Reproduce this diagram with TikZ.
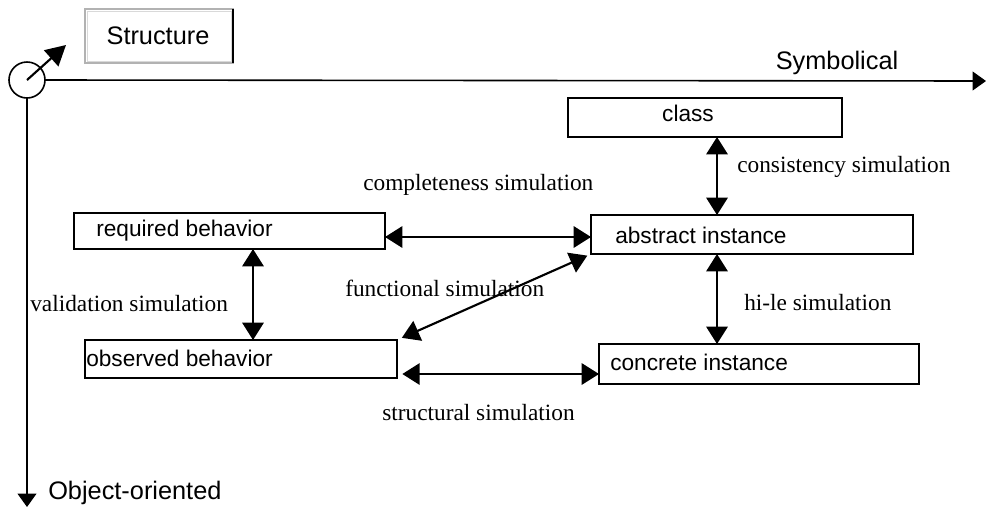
\documentclass[tikz,border=0pt]{standalone}
\usepackage{fontspec}
\setmainfont{Liberation Serif}
\newfontfamily\arialf{Liberation Sans}
\usetikzlibrary{arrows.meta}
\begin{document}
\begin{tikzpicture}[x=0.75pt,y=-0.75pt,
  box/.style={draw,line width=1.5pt,rectangle,inner sep=0pt,outer sep=0pt},
  sanslab/.style={inner sep=0pt,font=\arialf\fontsize{17}{20}\selectfont},
  axislab/.style={inner sep=0pt,font=\arialf\fontsize{19}{22}\selectfont},
  serlab/.style={inner sep=0pt,anchor=west,font=\fontsize{17.5}{21}\selectfont},
  rel/.style={line width=1.6pt,{Triangle[length=13pt,width=16pt]}-{Triangle[length=13pt,width=16pt]}},
  axis/.style={line width=1.2pt,-{Triangle[length=10pt,width=14pt]}}]
\useasboundingbox (0,0) rectangle (987,508);
\fill[white] (0,0) rectangle (987,508);

% axes
\node[draw,circle,line width=1.2pt,minimum size=27pt,inner sep=0pt,outer sep=0pt] (origin) at (27,80) {};
\coordinate (xend) at (986,81);
\coordinate (yend) at (27,507);
\coordinate (diag) at (66,45);
\draw[axis] (origin.east) -- (xend);
\draw[axis] (origin.south) -- (origin.south |- yend);
\draw[line width=1.6pt,-{Triangle[length=15pt,width=16pt]}] (origin.center) -- (diag);

% Structure box
\node[rectangle,draw=gray!60,line width=0.8pt,minimum width=111pt,minimum height=40.5pt,inner sep=0pt,outer sep=0pt] (structbox) at (159,36) {};
\draw[gray!30,line width=0.6pt] ([shift={(2,2)}]structbox.north west) rectangle ([shift={(-2,-2)}]structbox.south east);
\draw[line width=1.4pt] (structbox.north east) -- (structbox.south east);
\node[axislab] (structure) at (158,36) {Structure};

\node[axislab] (symb) at (837,63) {Symbolical};
\node[axislab,anchor=west] (oo) at (48,493) {Object-oriented};

% boxes
\node[box,minimum width=205.5pt,minimum height=29.25pt] (class) at (705,117.5) {};
\node[box,minimum width=241.5pt,minimum height=29.25pt] (abstract) at (752,234.5) {};
\node[box,minimum width=233.25pt,minimum height=27pt] (required) at (229.5,231) {};
\node[box,minimum width=234pt,minimum height=28.5pt] (observed) at (241,359) {};
\node[box,minimum width=240pt,minimum height=30pt] (concrete) at (759,364) {};

\node[sanslab] (classT) at (688,113) {class};
\node[sanslab,anchor=west] (abstractT) at (615,235) {abstract instance};
\node[sanslab,anchor=west] (requiredT) at (96,231) {required behavior};
\node[sanslab,anchor=west] (observedT) at (86,358) {observed behavior};
\node[sanslab,anchor=west] (concreteT) at (610,362) {concrete instance};

% connector guides
\coordinate (cx) at (717,0);
\coordinate (vx) at (253,0);
\coordinate (cy) at (0,237);
\coordinate (sy) at (0,374);

\draw[rel] (class.south -| cx) -- (abstract.north -| cx);
\draw[rel] (abstract.south -| cx) -- (concrete.north -| cx);
\draw[rel] (required.south -| vx) -- (observed.north -| vx);
\draw[rel] (required.east |- cy) -- (abstract.west |- cy);
\draw[rel,shorten <=4pt] (observed.east |- sy) -- (concrete.west |- sy);
\draw[rel,shorten <=4pt,shorten >=3pt] (observed.north east) -- (abstract.south west);

% labels
\node[serlab] (consL) at (737,167) {consistency simulation};
\node[serlab] (compL) at (363,185) {completeness simulation};
\node[serlab] (funcL) at (345,288) {functional simulation};
\node[serlab] (valL) at (30,304) {validation simulation};
\node[serlab] (hileL) at (744,303) {hi-le simulation};
\node[serlab] (structL) at (382,413) {structural simulation};
\end{tikzpicture}
\end{document}
